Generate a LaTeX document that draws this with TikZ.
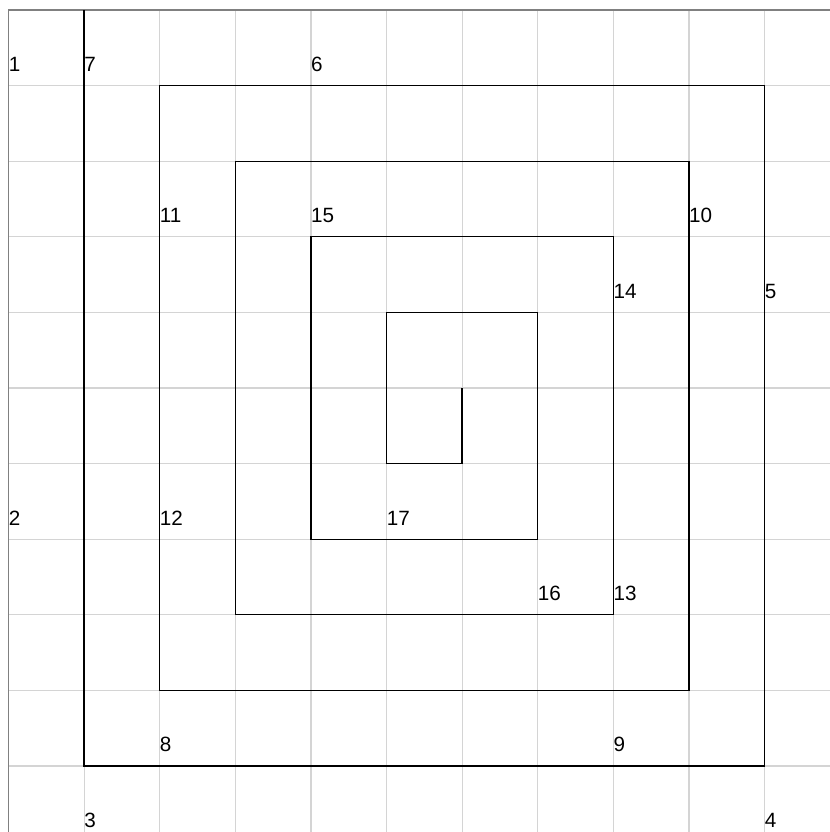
\documentclass[tikz,border=0pt]{standalone}
\usepackage{fontspec}
\setmainfont{Liberation Sans}
\definecolor{gridgray}{HTML}{D4D4D4}
\definecolor{axisgray}{HTML}{808080}
\tikzset{
  gridline/.style={draw=gridgray, line width=0.9pt},
  axisline/.style={draw=axisgray, line width=1.3pt},
  spiral/.style={draw=black, line width=0.95pt, line join=miter},
  numlabel/.style={inner sep=0pt, anchor=west, font=\fontsize{15.5pt}{17pt}\selectfont, text=black},
}
\begin{document}
\begin{tikzpicture}
\useasboundingbox (0,0) rectangle (621.75pt,-624pt);
\begin{scope}[shift={(6.375pt,-7.5pt)}, x=56.7pt, y=-56.7pt]
  % grid
  \foreach \i in {1,...,10} \draw[gridline] (\i,0) -- (\i,10.9);
  \foreach \j in {1,...,10} \draw[gridline] (0,\j) -- (10.9,\j);
  % axes
  \draw[axisline] (0,10.9) -- (0,0) -- (10.9,0);
  % spiral
  \coordinate (s0) at (6,5);
  \coordinate (s1) at (6,6);
  \coordinate (s2) at (5,6);
  \coordinate (s3) at (5,4);
  \coordinate (s4) at (7,4);
  \coordinate (s5) at (7,7);
  \coordinate (s6) at (4,7);
  \coordinate (s7) at (4,3);
  \coordinate (s8) at (8,3);
  \coordinate (s9) at (8,8);
  \coordinate (s10) at (3,8);
  \coordinate (s11) at (3,2);
  \coordinate (s12) at (9,2);
  \coordinate (s13) at (9,9);
  \coordinate (s14) at (2,9);
  \coordinate (s15) at (2,1);
  \coordinate (s16) at (10,1);
  \coordinate (s17) at (10,10);
  \coordinate (s18) at (1,10);
  \coordinate (s19) at (1,0);
  \draw[spiral] (s0) -- (s1) -- (s2) -- (s3) -- (s4) -- (s5) -- (s6) -- (s7) -- (s8) -- (s9) -- (s10) -- (s11) -- (s12) -- (s13) -- (s14) -- (s15) -- (s16) -- (s17) -- (s18) -- (s19);
  % labels
  \node[numlabel] (l1) at (0,0.72) {1};
  \node[numlabel] (l7) at (1,0.72) {7};
  \node[numlabel] (l6) at (4,0.72) {6};
  \node[numlabel] (l11) at (2,2.72) {11};
  \node[numlabel] (l15) at (4,2.72) {15};
  \node[numlabel] (l10) at (9,2.72) {10};
  \node[numlabel] (l14) at (8,3.72) {14};
  \node[numlabel] (l5) at (10,3.72) {5};
  \node[numlabel] (l2) at (0,6.72) {2};
  \node[numlabel] (l12) at (2,6.72) {12};
  \node[numlabel] (l17) at (5,6.72) {17};
  \node[numlabel] (l16) at (7,7.72) {16};
  \node[numlabel] (l13) at (8,7.72) {13};
  \node[numlabel] (l8) at (2,9.72) {8};
  \node[numlabel] (l9) at (8,9.72) {9};
  \node[numlabel] (l3) at (1,10.72) {3};
  \node[numlabel] (l4) at (10,10.72) {4};
\end{scope}
\end{tikzpicture}
\end{document}
